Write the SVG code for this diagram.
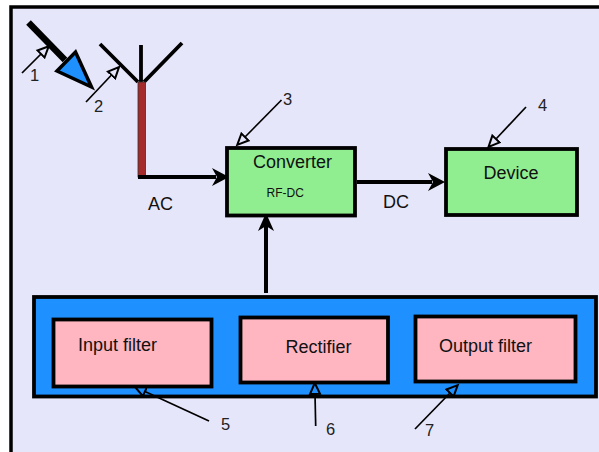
<svg xmlns="http://www.w3.org/2000/svg" width="599" height="452" viewBox="0 0 599 452">
<style>
text{font-family:"Liberation Sans",Arial,sans-serif;fill:#111;font-size:18px}
.n{font-size:16.500px;fill:#222}
.box{stroke:#000;stroke-width:3.800}
.green{fill:#90EE90}
.pink{fill:#FFB6C1}
.lab{fill:none;stroke:#000;stroke-width:1.700;marker-end:url(#open)}
.thick{fill:none;stroke:#000;stroke-width:4}
.head{fill:#000}
</style>
<defs>
<marker id="open" markerUnits="userSpaceOnUse" markerWidth="16" markerHeight="16" refX="0" refY="6" orient="auto" viewBox="-1 0 16 12"><path d="M0,1 L11,6 L0,11Z" fill="none" stroke="#000" stroke-width="2"/></marker>
</defs>
<rect x="0" y="0" width="599" height="452" fill="#fff"/>
<path d="M599,7 H11 V452 H599Z" fill="#E6E6FA"/>
<path d="M599,7 H11 V452" fill="none" stroke="#000" stroke-width="3.500"/>

<g id="beam">
<line x1="28.500" y1="22.500" x2="65" y2="60" stroke="#000" stroke-width="6.500"/>
<path d="M75.500,52 L91.500,87 L57,71Z" fill="#1E90FF" stroke="#000" stroke-width="3.500"/>
</g>
<g id="antenna">
<path d="M100,44 L138,82 M141,45 V82 M182,43 L144,82" fill="none" stroke="#000" stroke-width="3.800"/>
<rect x="138" y="82" width="7.500" height="95" fill="#A52A2A" stroke="#333" stroke-width="0.800"/>
</g>
<g id="filters">
<rect x="34" y="297" width="562" height="99.500" fill="#1E90FF" class="box"/>
</g>
<g id="connectors">
<path class="thick" d="M138,177 H216"/>
<path class="head" d="M212,168 L229,177 L212,186 L217,177Z"/>
<path class="thick" d="M357,182 H432"/>
<path class="head" d="M428,173 L445,182 L428,191 L433,182Z"/>
<path class="thick" d="M266,293 V226"/>
<path class="head" d="M258,231 L266,213 L274,231 L266,226Z"/>
<line class="lab" x1="22" y1="73" x2="41" y2="54"/>
<line class="lab" x1="86" y1="102" x2="111.500" y2="75"/>
<line class="lab" x1="281.500" y1="100" x2="245" y2="137"/>
<line class="lab" x1="526" y1="107" x2="496" y2="139"/>
<line class="lab" x1="209" y1="421" x2="145" y2="391.500"/>
<line class="lab" x1="315.700" y1="426" x2="315" y2="394"/>
<line class="lab" x1="415" y1="429" x2="450" y2="393"/>
</g>
<g id="converter">
<rect x="227" y="148" width="128" height="67.500" class="box green"/>
<text x="253" y="168">Converter</text>
<text x="266.500" y="197" style="font-size:12px">RF-DC</text>
</g>
<g id="device">
<rect x="446" y="149" width="131" height="66" class="box green"/>
<text x="483.500" y="179">Device</text>
</g>
<g id="input-filter">
<rect x="53.500" y="319.500" width="158" height="67" class="box pink"/>
<text x="78" y="351">Input filter</text>
</g>
<g id="rectifier">
<rect x="240.500" y="317.500" width="147.500" height="65" class="box pink"/>
<text x="285.500" y="353">Rectifier</text>
</g>
<g id="output-filter">
<rect x="415.500" y="316.500" width="160" height="65" class="box pink"/>
<text x="439" y="352">Output filter</text>
</g>
<g id="labels">
<text x="148" y="210">AC</text>
<text x="383" y="208">DC</text>
<text class="n" x="30" y="81">1</text>
<text class="n" x="94" y="112">2</text>
<text class="n" x="283" y="105">3</text>
<text class="n" x="538" y="111">4</text>
<text class="n" x="221" y="430">5</text>
<text class="n" x="326" y="435">6</text>
<text class="n" x="425" y="436">7</text>
</g>
</svg>
